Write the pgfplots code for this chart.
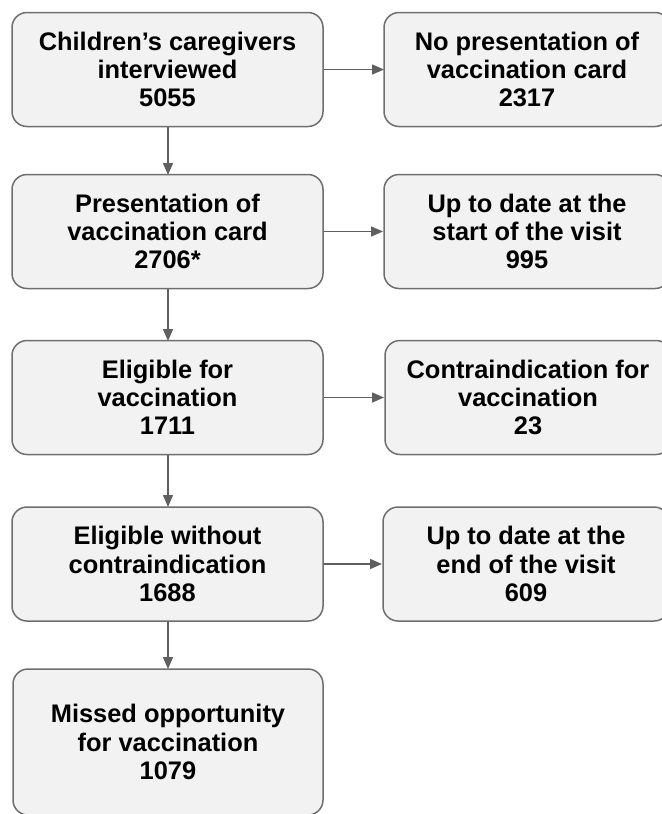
\documentclass[border=0pt]{standalone}
\usepackage{pgfplots}
\pgfplotsset{compat=1.18}
\usepackage{fontspec}
\setmainfont{Liberation Sans}
\usetikzlibrary{arrows.meta}
\definecolor{boxfill}{HTML}{F2F2F2}
\definecolor{boxline}{HTML}{6E6E6E}
\definecolor{arrowc}{HTML}{5F5F5F}
\begin{document}
\begin{tikzpicture}
\begin{axis}[
  width=331pt, height=407pt, scale only axis,
  xmin=0, xmax=662, ymin=0, ymax=814, y dir=reverse,
  axis lines=none, clip=true,
  point meta=explicit symbolic,
  boxstyle/.style={draw=none, mark=none, nodes near coords,
    every node near coord/.append style={anchor=center, align=center,
      draw=boxline, line width=0.75pt, fill=boxfill, rounded corners=7.5pt,
      inner sep=0pt, text=black,
      font=\bfseries\fontsize{12.7}{14.1}\selectfont}},
  arr/.style={draw=arrowc, line width=0.75pt, mark=none,
    -{Triangle[length=6pt,width=5pt]}},
]
\coordinate (sw) at (axis cs:0,814);
\coordinate (ne) at (axis cs:662,0);
% left column boxes
\addplot[boxstyle, every node near coord/.append style={minimum width=155.5pt, minimum height=57pt}] coordinates {
  (167.5,69.5) [{Children’s caregivers\\interviewed\\5055}]
  (167.5,231.5) [{Presentation of\\vaccination card\\2706*}]
  (167.5,397.5) [{Eligible for\\vaccination\\1711}]
  (167.5,564) [{Eligible without\\contraindication\\1688}]
};
\addplot[boxstyle, every node near coord/.append style={minimum width=155pt, minimum height=73pt}] coordinates {
  (168,742) [{Missed opportunity\\for vaccination\\1079}]
};
% right column boxes
\addplot[boxstyle, every node near coord/.append style={minimum width=143pt, minimum height=57pt}] coordinates {
  (527,69.5) [{No presentation of\\vaccination card\\2317}]
  (527,231.5) [{Up to date at the\\start of the visit\\995}]
  (528,397.5) [{Contraindication for\\vaccination\\23}]
  (526,564) [{Up to date at the\\end of the visit\\609}]
};
% arrows
\addplot[arr] coordinates {(323,69.5) (384,69.5)};
\addplot[arr] coordinates {(323,231.5) (383,231.5)};
\addplot[arr] coordinates {(323,397.5) (384,397.5)};
\addplot[arr] coordinates {(323,564) (382,564)};
\addplot[arr] coordinates {(168,126) (168,175)};
\addplot[arr] coordinates {(168,288) (168,341)};
\addplot[arr] coordinates {(168,454) (168,507)};
\addplot[arr] coordinates {(168,621) (168,669)};
\end{axis}
\pgfresetboundingbox
\path[use as bounding box] (sw) rectangle (ne);
\end{tikzpicture}
\end{document}
